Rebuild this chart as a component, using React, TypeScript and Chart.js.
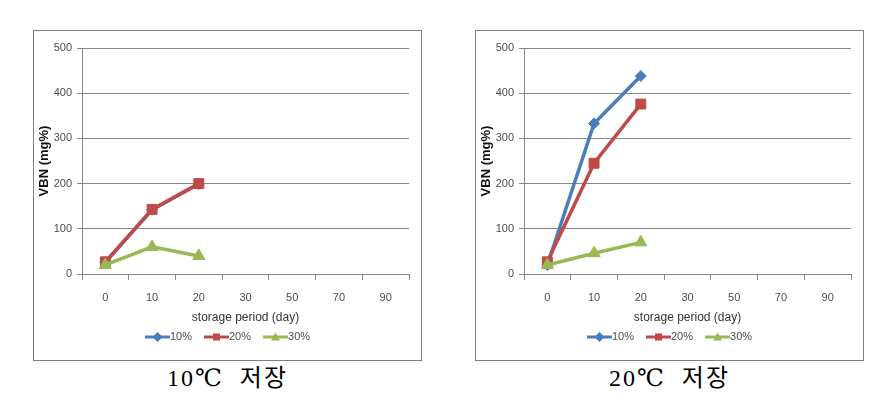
import React, { useEffect, useRef } from "react";
import { Chart, registerables } from "chart.js";

Chart.register(...registerables);

const CATEGORIES = ["0", "10", "20", "30", "50", "70", "90"];
const SERIES_LABELS = ["10%", "20%", "30%"];
const Y_MIN = 0;
const Y_MAX = 500;
const Y_STEP = 100;

// 10℃ storage
const LEFT_10 = [26, 142, 199];
const LEFT_20 = [27, 143, 200];
const LEFT_30 = [20, 60, 40];

// 20℃ storage
const RIGHT_10 = [20, 333, 438];
const RIGHT_20 = [27, 245, 376];
const RIGHT_30 = [20, 46, 70];

const COLORS = ["#4A7EBB", "#BE4B48", "#98B954"];
const POINT_STYLES = ["rectRot", "rect", "triangle"];
const POINT_RADII = [5.5, 7, 7];
const FONT = "'Liberation Sans', 'DejaVu Sans', sans-serif";
const TEXT_COLOR = "#4d4d4d";
const GRID_COLOR = "#878787";

function drawMarker(ctx: CanvasRenderingContext2D, style: string, x: number, y: number, r: number, color: string) {
  ctx.save();
  ctx.fillStyle = color;
  ctx.beginPath();
  if (style === "rectRot") {
    ctx.moveTo(x, y - r);
    ctx.lineTo(x + r, y);
    ctx.lineTo(x, y + r);
    ctx.lineTo(x - r, y);
  } else if (style === "rect") {
    const s = r * Math.SQRT1_2;
    ctx.rect(x - s, y - s, 2 * s, 2 * s);
  } else {
    const h = r * 0.9;
    ctx.moveTo(x, y - h);
    ctx.lineTo(x + h, y + h * 0.8);
    ctx.lineTo(x - h, y + h * 0.8);
  }
  ctx.closePath();
  ctx.fill();
  ctx.restore();
}

const legendPlugin = {
  id: "excelLegend",
  afterDraw(chart: any) {
    const ctx: CanvasRenderingContext2D = chart.ctx;
    ctx.save();
    ctx.font = `11px ${FONT}`;
    const lineLen = 25;
    const gap = 12;
    const widths = SERIES_LABELS.map((t) => ctx.measureText(t).width);
    const total = widths.reduce((a, w) => a + lineLen + w, 0) + gap * (SERIES_LABELS.length - 1);
    let x = (chart.width - total) / 2;
    const y = 306;
    SERIES_LABELS.forEach((label, i) => {
      ctx.strokeStyle = COLORS[i];
      ctx.lineWidth = 3;
      ctx.beginPath();
      ctx.moveTo(x, y);
      ctx.lineTo(x + lineLen, y);
      ctx.stroke();
      drawMarker(ctx, POINT_STYLES[i], x + lineLen / 2, y, 5, COLORS[i]);
      ctx.fillStyle = TEXT_COLOR;
      ctx.textBaseline = "middle";
      ctx.textAlign = "left";
      ctx.fillText(label, x + lineLen, y);
      x += lineLen + widths[i] + gap;
    });
    ctx.restore();
  },
};

function VbnChart({ series }: { series: number[][] }) {
  const ref = useRef<HTMLCanvasElement>(null);
  useEffect(() => {
    if (!ref.current) return;
    const chart = new Chart(ref.current, {
      type: "line",
      data: {
        labels: CATEGORIES,
        datasets: series.map((data, i) => ({
          label: SERIES_LABELS[i],
          data,
          borderColor: COLORS[i],
          backgroundColor: COLORS[i],
          borderWidth: 3.5,
          pointStyle: POINT_STYLES[i] as any,
          pointRadius: POINT_RADII[i],
          pointBorderWidth: 1,
          pointBorderColor: COLORS[i],
          tension: 0,
          order: 3 - i,
          clip: false as any,
        })),
      },
      options: {
        animation: false,
        responsive: false,
        maintainAspectRatio: false,
        layout: { padding: { left: 0, right: 12, top: 17, bottom: 34 } },
        plugins: { legend: { display: false }, tooltip: { enabled: false } },
        scales: {
          x: {
            type: "category",
            offset: true,
            grid: {
              offset: true,
              drawOnChartArea: false,
              drawTicks: true,
              tickLength: 6,
              color: GRID_COLOR,
            },
            border: { display: true, color: GRID_COLOR },
            ticks: { color: TEXT_COLOR, font: { family: FONT, size: 11 }, padding: 11, maxRotation: 0 },
            title: {
              display: true,
              text: "storage period (day)",
              color: "#333",
              font: { family: FONT, size: 12 },
              padding: { top: 0, bottom: 1 },
            },
            afterFit: (scale: any) => {
              scale.height = 52;
            },
          },
          y: {
            min: Y_MIN,
            max: Y_MAX,
            ticks: { stepSize: Y_STEP, color: TEXT_COLOR, font: { family: FONT, size: 11 }, padding: 5 },
            grid: { color: GRID_COLOR, tickLength: 5, drawTicks: true },
            border: { display: true, color: GRID_COLOR },
            title: {
              display: true,
              text: "VBN (mg%)",
              color: "#111",
              font: { family: FONT, size: 13, weight: "bold" },
              padding: { top: 3, bottom: 0 },
            },
            afterFit: (scale: any) => {
              scale.width = 48;
            },
          },
        },
      },
      plugins: [legendPlugin],
    });
    return () => chart.destroy();
  }, [series]);
  return <canvas ref={ref} width={387} height={329} style={{ display: "block", width: 387, height: 329 }} />;
}

function Panel({ left, caption, series }: { left: number; caption: string; series: number[][] }) {
  return (
    <>
      <div
        style={{
          position: "absolute",
          left,
          top: 30,
          width: 387,
          height: 329,
          border: "1px solid #808080",
          background: "#fff",
        }}
      >
        <VbnChart series={series} />
      </div>
      <div
        style={{
          position: "absolute",
          left,
          top: 363,
          width: 389,
          textAlign: "center",
          fontFamily: "'Liberation Serif', 'DejaVu Serif', 'Noto Sans CJK KR', serif",
          fontSize: 24,
          lineHeight: "30px",
          letterSpacing: "2px",
          color: "#000",
          whiteSpace: "pre",
        }}
      >
        {caption}
      </div>
    </>
  );
}

export default function App() {
  return (
    <div style={{ position: "absolute", left: 0, top: 0, width: 885, height: 403, background: "#fff" }}>
      <Panel left={33} caption={"10℃  저장"} series={[LEFT_10, LEFT_20, LEFT_30]} />
      <Panel left={475} caption={"20℃  저장"} series={[RIGHT_10, RIGHT_20, RIGHT_30]} />
    </div>
  );
}
